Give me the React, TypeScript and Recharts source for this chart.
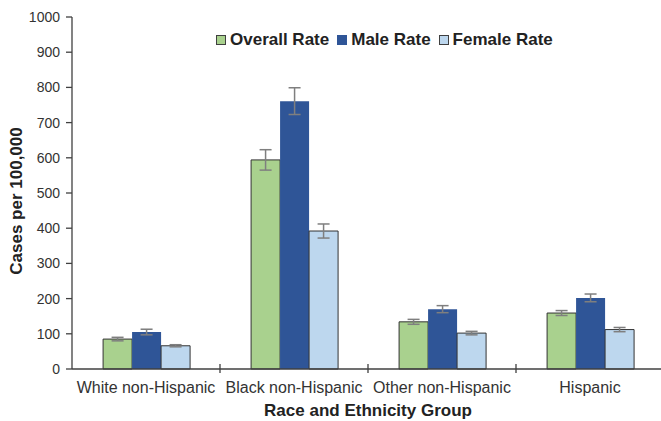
import React from 'react';
import { BarChart, Bar, XAxis, YAxis, Legend, ErrorBar } from 'recharts';

const categories = ['White non-Hispanic', 'Black non-Hispanic', 'Other non-Hispanic', 'Hispanic'];
const overallRate = [85, 594, 134, 159];
const maleRate = [105, 761, 170, 202];
const femaleRate = [66, 392, 102, 112];
const overallErr = [5, 29, 7, 7];
const maleErr = [8, 38, 10, 11];
const femaleErr = [3, 20, 5, 6];
const yTicks = [0, 100, 200, 300, 400, 500, 600, 700, 800, 900, 1000];

const data = categories.map((group, i) => ({
  group,
  overall: overallRate[i],
  male: maleRate[i],
  female: femaleRate[i],
  overallErr: overallErr[i],
  maleErr: maleErr[i],
  femaleErr: femaleErr[i],
}));

const FONT = '"Liberation Sans", Arial, sans-serif';
const CHART_W = 664;
const PLOT_LEFT = 72;
const BAND = (CHART_W - PLOT_LEFT) / categories.length;

const legendItems = [
  { label: 'Overall Rate', fill: '#A9D18E', border: '#404040' },
  { label: 'Male Rate', fill: '#2F5597', border: '#2F5597' },
  { label: 'Female Rate', fill: '#BDD7EE', border: '#404040' },
];

const LegendContent = () => (
  <div style={{ display: 'flex', alignItems: 'center', fontFamily: FONT, fontWeight: 700, fontSize: 17, color: '#222' }}>
    {legendItems.map((it) => (
      <div key={it.label} style={{ display: 'flex', alignItems: 'center', marginRight: 8 }}>
        <span style={{ width: 8, height: 8, background: it.fill, border: `1px solid ${it.border}`, marginRight: 4, display: 'inline-block' }} />
        <span>{it.label}</span>
      </div>
    ))}
  </div>
);

const XTick = (props: any) => {
  const { x, y, payload } = props;
  const axisY = y - 8;
  return (
    <g>
      <line x1={x + BAND / 2} x2={x + BAND / 2} y1={axisY - 5} y2={axisY + 4} stroke="#404040" strokeWidth={1.3} />
      <text x={x} y={axisY + 24} textAnchor="middle" fontSize={16} fill="#333" fontFamily={FONT}>
        {payload.value}
      </text>
    </g>
  );
};

export default function App() {
  return (
    <div style={{ position: 'absolute', left: 0, top: 0, width: 661, height: 421, overflow: 'hidden', background: '#fff' }}>
      <BarChart
        width={CHART_W}
        height={421}
        data={data}
        margin={{ top: 17, right: 0, bottom: 0, left: 0 }}
        barCategoryGap="21%"
        barGap={0}
      >
        <XAxis
          dataKey="group"
          tick={<XTick />}
          tickLine={false}
          tickSize={6}
          tickMargin={2}
          height={52}
          interval={0}
          axisLine={{ stroke: '#404040', strokeWidth: 1.3 }}
          label={(p: any) => {
            const vb = p.viewBox;
            return (
              <text x={vb.x + vb.width / 2} y={vb.y + 47} textAnchor="middle" fontSize={17} fontWeight={700} fill="#222" fontFamily={FONT}>
                Race and Ethnicity Group
              </text>
            );
          }}
        />
        <YAxis
          width={PLOT_LEFT}
          domain={[0, 1000]}
          ticks={yTicks}
          interval={0}
          tickSize={6}
          tickMargin={6}
          tick={{ fontSize: 14, fill: '#333', fontFamily: FONT }}
          tickLine={{ stroke: '#404040', strokeWidth: 1.3 }}
          axisLine={{ stroke: '#404040', strokeWidth: 1.3 }}
          label={(p: any) => {
            const vb = p.viewBox;
            const cx = vb.x + 16;
            const cy = vb.y + vb.height / 2 + 8;
            return (
              <text x={cx} y={cy} transform={`rotate(-90 ${cx} ${cy})`} textAnchor="middle" dominantBaseline="central" fontSize={17} fontWeight={700} fill="#222" fontFamily={FONT}>
                Cases per 100,000
              </text>
            );
          }}
        />
        <Legend
          layout="horizontal"
          verticalAlign="middle"
          align="center"
          content={<LegendContent />}
          wrapperStyle={{ position: 'absolute', top: 30, left: 216, width: 'auto', height: 'auto' }}
        />
        <Bar dataKey="overall" fill="#A9D18E" stroke="#333" strokeWidth={1} isAnimationActive={false}>
          <ErrorBar dataKey="overallErr" width={6} stroke="#7F7F7F" strokeWidth={1.5} />
        </Bar>
        <Bar dataKey="male" fill="#2F5597" isAnimationActive={false}>
          <ErrorBar dataKey="maleErr" width={6} stroke="#7F7F7F" strokeWidth={1.5} />
        </Bar>
        <Bar dataKey="female" fill="#BDD7EE" stroke="#333" strokeWidth={1} isAnimationActive={false}>
          <ErrorBar dataKey="femaleErr" width={6} stroke="#7F7F7F" strokeWidth={1.5} />
        </Bar>
      </BarChart>
    </div>
  );
}
